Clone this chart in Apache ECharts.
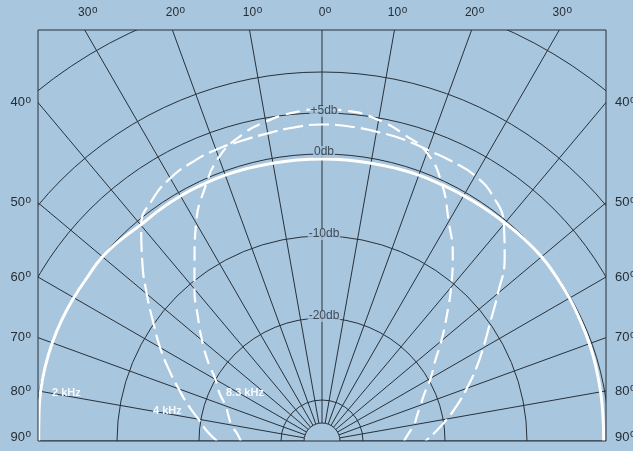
<!DOCTYPE html>
<html>
<head>
<meta charset="utf-8">
<script src="https://cdn.jsdelivr.net/npm/echarts@6/dist/echarts.min.js"></script>
<style>
  html, body { margin: 0; padding: 0; background: #a8c6de; }
  #chart { width: 633px; height: 451px; }
</style>
</head>
<body>
<div id="chart"></div>
<script>
// angle from the on-axis direction, degrees (negative = left)
const angles = [-90, -85, -80, -75, -70, -65, -60, -55, -50, -45, -40, -35, -30, -25, -20, -15, -10, -5,
  0, 5, 10, 15, 20, 25, 30, 35, 40, 45, 50, 55, 60, 65, 70, 75, 80, 85, 90];

// level in dB at each angle
const khz2 = [-0.45, -0.35, -0.15, -0.05, 0.0, 0.0, -0.05, -0.1, -0.05, -0.3, -0.6, -0.55, -0.5, -0.5, -0.5, -0.55, -0.6, -0.6,
  -0.6, -0.6, -0.6, -0.55, -0.5, -0.5, -0.45, -0.4, -0.3, -0.15, -0.05, -0.1, -0.15, -0.25, -0.3, -0.4, -0.5, -0.6, -0.65];
const khz4 = [-22.2, -20.9, -19.7, -18.1, -16.4, -14.4, -12.2, -9.9, -7.1, -4.0, -0.7, 1.0, 2.0, 2.5, 2.8, 2.9, 3.1, 3.4,
  3.6, 3.5, 3.3, 3.1, 2.75, 2.6, 2.35, 1.4, -0.5, -3.5, -7.0, -10.0, -12.3, -14.3, -16.2, -17.9, -19.5, -21.0, -22.4];
const khz83 = [-25.1, -24.6, -23.8, -23.2, -22.5, -21.2, -20.0, -18.0, -15.9, -13.6, -10.8, -7.9, -4.3, -1.1, 1.8, 3.5, 4.55, 5.2,
  5.45, 5.35, 4.75, 3.7, 2.4, -0.4, -4.1, -7.2, -10.5, -13.5, -16.0, -18.2, -19.7, -21.2, -22.2, -23.0, -23.6, -24.4, -25.0];

const dbRings = [-30, -20, -10, 0, 5, 10, 20];
const dbLabels = [5, 0, -10, -20];
const topTicks = [-30, -20, -10, 0, 10, 20, 30];
const sideTicks = [40, 50, 60, 70, 80, 90];

const BG = '#a8c6de';
const INK = '#27313a';
const LABEL = '#262d33';
const cx = 322, cy = 441;
const frame = { x: 38, y: 30, w: 568, h: 411 };
const rMin = -35, rMax = 30, pxPerDb = 8.2;

function pairs(vals) {
  return vals.map((v, i) => [v, angles[i]]);
}

// only the rings listed in dbRings are drawn
const ringColors = [];
for (let d = rMin; d <= rMax; d += 5) ringColors.push(dbRings.includes(d) ? INK : 'rgba(0,0,0,0)');

function degLabel(num, x, y, align, size) {
  const txt = String(Math.abs(num));
  const w = txt.length * size * 0.556;
  let left = x;
  if (align === 'center') left = x - w / 2;
  if (align === 'right') left = x - w;
  return [
    { type: 'text', x: left, y: y, z: 102,
      style: { text: txt, font: size + 'px "Liberation Sans"', fill: LABEL, align: 'left', verticalAlign: 'middle' } },
    { type: 'text', x: left + w + 0.5, y: y - 2.5, z: 102,
      style: { text: 'o', font: '10px "Liberation Sans"', fill: LABEL, align: 'left', verticalAlign: 'middle' } }
  ];
}

const graphics = [
  // mask everything outside the frame
  { type: 'rect', z: 100, shape: { x: 0, y: 0, width: 633, height: frame.y }, style: { fill: BG } },
  { type: 'rect', z: 100, shape: { x: 0, y: frame.y + frame.h, width: 633, height: 20 }, style: { fill: BG } },
  { type: 'rect', z: 100, shape: { x: 0, y: 0, width: frame.x, height: 451 }, style: { fill: BG } },
  { type: 'rect', z: 100, shape: { x: frame.x + frame.w, y: 0, width: 40, height: 451 }, style: { fill: BG } },
  { type: 'circle', z: 50, shape: { cx: cx, cy: cy, r: 18 }, style: { fill: BG, stroke: INK, lineWidth: 1 } },
  { type: 'rect', z: 101, shape: { x: frame.x, y: frame.y, width: frame.w, height: frame.h },
    style: { fill: 'none', stroke: INK, lineWidth: 1 } },
  { type: 'text', x: 52, y: 393, z: 60,
    style: { text: '2 kHz', font: 'bold 11px "Liberation Sans"', fill: '#f5f9fc', verticalAlign: 'middle' } },
  { type: 'text', x: 153, y: 411, z: 60,
    style: { text: '4 kHz', font: 'bold 11px "Liberation Sans"', fill: '#f5f9fc', verticalAlign: 'middle' } },
  { type: 'text', x: 226, y: 393, z: 60,
    style: { text: '8.3 kHz', font: 'bold 11px "Liberation Sans"', fill: '#f5f9fc', verticalAlign: 'middle' } }
];

topTicks.forEach(a => {
  const x = cx + (cy - frame.y) * Math.tan(a * Math.PI / 180);
  graphics.push(...degLabel(a, x, 13, 'center', 12));
});
sideTicks.forEach(a => {
  const half = cx - frame.x;
  const y = Math.min(cy - half / Math.tan(a * Math.PI / 180), 437);
  graphics.push(...degLabel(a, 25, y, 'right', 13));
  graphics.push(...degLabel(a, 615, y, 'left', 13));
});

const chart = echarts.init(document.getElementById('chart'));
chart.setOption({
  backgroundColor: BG,
  animation: false,
  polar: { center: [cx, cy], radius: [0, (rMax - rMin) * pxPerDb] },
  angleAxis: {
    type: 'value', min: -180, max: 180, interval: 10, startAngle: 270, clockwise: true,
    axisLine: { show: false }, axisTick: { show: false }, axisLabel: { show: false },
    splitLine: { show: true, lineStyle: { color: INK, width: 1 } }
  },
  radiusAxis: {
    type: 'value', min: rMin, max: rMax, interval: 5,
    axisLine: { show: false }, axisTick: { show: false }, axisLabel: { show: false },
    splitLine: { show: true, lineStyle: { color: ringColors, width: 1 } }
  },
  series: [
    { name: '2 kHz', type: 'line', coordinateSystem: 'polar', data: pairs(khz2), symbol: 'none', smooth: true,
      lineStyle: { color: '#ffffff', width: 3 }, z: 3 },
    { name: '4 kHz', type: 'line', coordinateSystem: 'polar', data: pairs(khz4), symbol: 'none', smooth: true,
      lineStyle: { color: '#ffffff', width: 2.2, type: [20, 6] }, z: 3 },
    { name: '8.3 kHz', type: 'line', coordinateSystem: 'polar', data: pairs(khz83), symbol: 'none', smooth: true,
      lineStyle: { color: '#ffffff', width: 2.2, type: [14, 7] }, z: 3 },
    { name: 'db', type: 'scatter', coordinateSystem: 'polar', symbolSize: 0, z: 10, silent: true,
      data: dbLabels.map(d => [d, 0]),
      itemStyle: { color: 'rgba(0,0,0,0)' },
      label: {
        show: true, position: 'inside', offset: [2, -2],
        formatter: p => (p.value[0] > 0 ? '+' : '') + p.value[0] + 'db',
        fontFamily: 'Liberation Sans', fontSize: 12, color: LABEL,
        backgroundColor: BG, padding: [0, 1]
      } }
  ],
  graphic: { elements: graphics }
});
</script>
</body>
</html>
